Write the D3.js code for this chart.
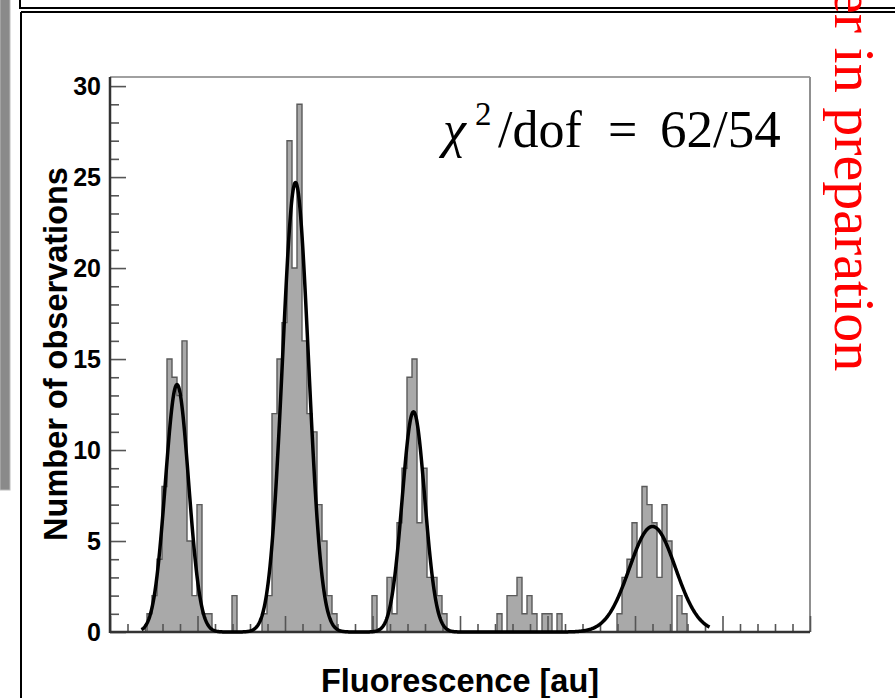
<!DOCTYPE html>
<html>
<head>
<meta charset="utf-8">
<script src="https://cdn.jsdelivr.net/npm/d3@7/dist/d3.min.js"></script>
<style>
    body { margin: 0; background: #fff; }
    svg { display: block; }
</style>
</head>
<body>
<svg id="chart"></svg>
<script>
// histogram: one count per bin, bins of 1 au starting at binStart
const binStart = 0.4;
const counts = [
    0, 0, 0, 0, 0, 0, 0, 1, 2, 4,
    8, 15, 14, 13, 16, 5, 2, 7, 1, 1,
    0, 0, 0, 0, 2, 0, 0, 0, 0, 0,
    1, 2, 12, 15, 17, 27, 20, 29, 16, 12,
    11, 7, 5, 2, 1, 0, 0, 0, 0, 0,
    0, 0, 2, 0, 0, 3, 1, 6, 9, 14,
    15, 6, 9, 3, 3, 2, 1, 0, 0, 0,
    0, 0, 0, 0, 0, 0, 0, 1, 0, 2,
    2, 3, 1, 2, 1, 0, 1, 1, 0, 1,
    0, 0, 0, 0, 0, 0, 0, 0, 0, 0,
    0, 1, 3, 4, 6, 3, 8, 7, 6, 3,
    7, 5, 0, 2, 1, 0, 0, 0, 0, 0,
    0, 0, 0, 0, 0, 0, 0, 0, 0, 0,
    0, 0, 0, 0, 0, 0, 0, 0, 0, 0
];

// fit: sum of four gaussians
const fitMeans = [13.4, 37.1, 60.7, 108.5];
const fitSigmas = [2.32, 2.6, 2.26, 4.6];
const fitAmps = [13.6, 24.7, 12.1, 5.8];
const fitRange = [6.3, 120];

const yMajor = [0, 5, 10, 15, 20, 25, 30];
const xLabel = "Fluorescence [au]";
const yLabel = "Number of observations";

const width = 895, height = 698;
const plot = { left: 110, right: 810, top: 77, bottom: 632 };
const sans = "Liberation Sans, Arial, sans-serif";
const serif = "Liberation Serif, Times New Roman, serif";

const svg = d3.select("#chart").attr("width", width).attr("height", height);

// page decorations around the figure
svg.append("rect").attr("x", 0).attr("y", -2).attr("width", 10).attr("height", 492)
    .attr("fill", "#8a8a8a").attr("stroke", "#bbb");
svg.append("rect").attr("x", 20).attr("y", -10).attr("width", 900).attr("height", 18)
    .attr("fill", "none").attr("stroke", "#000").attr("stroke-width", 2);
svg.append("line").attr("x1", 21).attr("x2", 895).attr("y1", 12).attr("y2", 12)
    .attr("stroke", "#000").attr("stroke-width", 2);
svg.append("line").attr("x1", 21).attr("x2", 21).attr("y1", 12).attr("y2", 698)
    .attr("stroke", "#000").attr("stroke-width", 2);

let x = d3.scaleLinear().domain([0, 140]).range([plot.left, plot.right]);
let y = d3.scaleLinear().domain([0, 30.5]).range([plot.bottom, plot.top]);

// histogram bars
let bins = counts.map((c, i) => ({ x0: binStart + i, x1: binStart + i + 1, c: c }))
    .filter(d => d.x0 < 140);
svg.append("g").selectAll("rect")
    .data(bins.filter(d => d.c > 0))
    .enter().append("rect")
    .attr("x", d => x(d.x0))
    .attr("width", d => x(Math.min(d.x1, 140)) - x(d.x0))
    .attr("y", d => y(d.c))
    .attr("height", d => y(0) - y(d.c))
    .attr("fill", "#a9a9a9");

// step outline
let stepPts = bins.map(d => [d.x0, d.c]);
stepPts.push([140, 0]);
svg.append("path")
    .datum(stepPts)
    .attr("fill", "none")
    .attr("stroke", "#5a5a5a")
    .attr("stroke-width", 1.4)
    .attr("d", d3.line().x(d => x(d[0])).y(d => y(d[1])).curve(d3.curveStepAfter));

// frame
svg.append("line").attr("x1", plot.left).attr("x2", plot.right).attr("y1", plot.top).attr("y2", plot.top)
    .attr("stroke", "#a0a0a0").attr("stroke-width", 2);
svg.append("line").attr("x1", plot.right).attr("x2", plot.right).attr("y1", plot.top).attr("y2", plot.bottom)
    .attr("stroke", "#909090").attr("stroke-width", 2);

// y axis ticks (inside)
let yAxis = d3.axisRight(y).tickValues(d3.range(0, 31, 1))
    .tickSize(9).tickFormat("");
let yg = svg.append("g").attr("transform", `translate(${plot.left},0)`).call(yAxis);
yg.select(".domain").remove();
yg.selectAll(".tick line")
    .attr("x2", d => d % 5 === 0 ? 16 : 9)
    .attr("stroke", "#555").attr("stroke-width", 1.6);

svg.append("g").selectAll("text")
    .data(yMajor).enter().append("text")
    .attr("x", plot.left - 9)
    .attr("y", d => y(d))
    .attr("dy", "0.36em")
    .attr("text-anchor", "end")
    .attr("font-family", sans)
    .attr("font-weight", "bold")
    .attr("font-size", 25)
    .text(d => d);

// x axis ticks (inside)
let xAxis = d3.axisTop(x).tickValues(d3.range(0, 140.01, 3.5))
    .tickSize(8).tickFormat("");
let xg = svg.append("g").attr("transform", `translate(0,${plot.bottom})`).call(xAxis);
xg.select(".domain").remove();
xg.selectAll(".tick line")
    .attr("y2", (d, i) => i % 5 === 0 ? -16 : -8)
    .attr("stroke", "#555").attr("stroke-width", 1.6);

// axis lines
svg.append("line").attr("x1", plot.left).attr("x2", plot.left).attr("y1", plot.top).attr("y2", plot.bottom + 1)
    .attr("stroke", "#333").attr("stroke-width", 2.5);
svg.append("line").attr("x1", plot.left).attr("x2", plot.right).attr("y1", plot.bottom).attr("y2", plot.bottom)
    .attr("stroke", "#333").attr("stroke-width", 2.5);

// fitted curve
let fitX = d3.range(fitRange[0], fitRange[1], 0.1);
let fitPts = fitX.map(v => [v, d3.sum(fitMeans, (m, i) =>
    fitAmps[i] * Math.exp(-0.5 * ((v - m) / fitSigmas[i]) ** 2))]);
svg.append("path")
    .datum(fitPts)
    .attr("fill", "none")
    .attr("stroke", "#000")
    .attr("stroke-width", 3.5)
    .attr("stroke-linejoin", "round")
    .attr("d", d3.line().x(d => x(d[0])).y(d => y(d[1])));

// axis titles
svg.append("text")
    .attr("x", 460).attr("y", 692)
    .attr("text-anchor", "middle")
    .attr("font-family", sans)
    .attr("font-weight", "bold").attr("font-size", 32.5)
    .text(xLabel);
svg.append("text")
    .attr("transform", "translate(67,354) rotate(-90)")
    .attr("text-anchor", "middle")
    .attr("font-family", sans)
    .attr("font-weight", "bold").attr("font-size", 32.5)
    .text(yLabel);

// chi2 annotation
let chi = svg.append("text")
    .attr("y", 147)
    .attr("font-family", serif)
    .attr("font-size", 52);
chi.append("tspan").attr("x", 443).attr("font-style", "italic").text("χ");
chi.append("tspan").attr("x", 475).attr("dy", -22).attr("font-size", 33).text("2");
chi.append("tspan").attr("x", 498).attr("dy", 22).text("/dof");
chi.append("tspan").attr("x", 608).text("=");
chi.append("tspan").attr("x", 660).attr("font-size", 53).text("62/54");

// stamp on the right margin (cut at the page top, as in the source)
svg.append("text")
    .attr("transform", "translate(835,-12) rotate(90)")
    .attr("font-family", serif)
    .attr("font-size", 58)
    .attr("fill", "#ff0000")
    .text("er in preparation");
</script>
</body>
</html>
